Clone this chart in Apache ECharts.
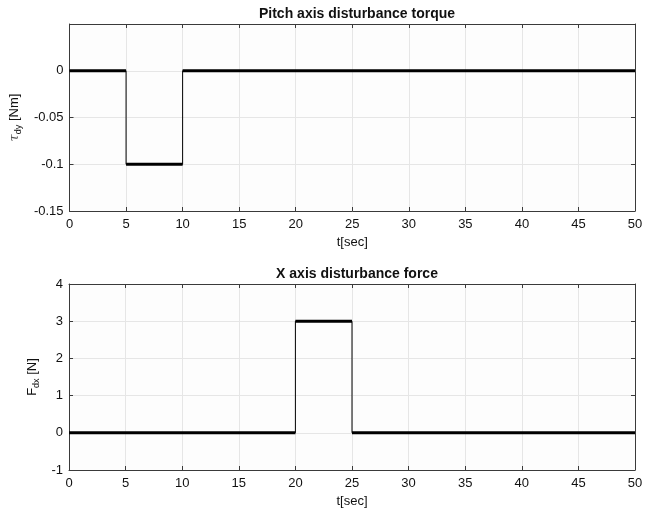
<!DOCTYPE html>
<html><head><meta charset="utf-8">
<script src="https://cdn.jsdelivr.net/npm/echarts@6/dist/echarts.min.js"></script>
<style>html,body{margin:0;padding:0;background:#fff}#c{width:650px;height:512px}</style>
</head><body><div id="c"></div>
<script>
// Top subplot: pitch axis disturbance torque (piecewise constant segments)
const tauSegStart = [0, 5, 10];
const tauSegEnd = [5, 10, 50];
const tauSegValue = [0, -0.1, 0];
// Bottom subplot: X axis disturbance force
const fSegStart = [0, 20, 25];
const fSegEnd = [20, 25, 50];
const fSegValue = [0, 3, 0];
const xTicks = [0, 5, 10, 15, 20, 25, 30, 35, 40, 45, 50];

function stepPoints(s, e, v) {
  const pts = [];
  for (let i = 0; i < s.length; i++) { pts.push([s[i], v[i]]); pts.push([e[i], v[i]]); }
  return pts;
}
function segPoints(s, e, v) {
  const pts = [];
  for (let i = 0; i < s.length; i++) {
    if (i > 0) pts.push(null);
    pts.push([s[i], v[i]]); pts.push([e[i], v[i]]);
  }
  return pts;
}

const FONT = 'Liberation Sans';
const axisCol = '#3a3a3a';
const gridCol = '#e6e6e6';

function xAx(gi, show) {
  return {
    type: 'value', gridIndex: gi, min: 0, max: 50, interval: 5,
    position: show ? 'bottom' : 'top',
    axisLine: { show: true, onZero: false, lineStyle: { color: axisCol, width: 1 } },
    axisTick: { show: true, inside: true, length: 4, lineStyle: { color: axisCol } },
    axisLabel: { show: show, color: '#111', fontFamily: FONT, fontSize: 13, margin: 7 },
    splitLine: { show: show, lineStyle: { color: gridCol, width: 1 } },
    name: show ? 't[sec]' : '', nameLocation: 'middle', nameGap: 25,
    nameTextStyle: { color: '#111', fontFamily: FONT, fontSize: 13 }
  };
}
function yAx(gi, min, max, interval, show, name, gap, hideTop) {
  return {
    type: 'value', gridIndex: gi, min: min, max: max, interval: interval,
    position: show ? 'left' : 'right',
    axisLine: { show: true, onZero: false, lineStyle: { color: axisCol, width: 1 } },
    axisTick: { show: true, inside: true, length: 4, lineStyle: { color: axisCol } },
    axisLabel: {
      show: show, color: '#111', fontFamily: FONT, fontSize: 13, margin: 6,
      formatter: function (v) {
        const r = Math.round(v * 1000) / 1000;
        if (hideTop && r > 0.04) return '';
        return String(r);
      }
    },
    splitLine: { show: show, lineStyle: { color: gridCol, width: 1 } },
    name: show ? name : '', nameLocation: 'middle', nameGap: gap, nameRotate: 90,
    nameTextStyle: {
      color: '#111', fontFamily: FONT, fontSize: 13,
      rich: {
        g: { fontFamily: 'DejaVu Serif', fontStyle: 'italic', fontSize: 13, color: '#555' },
        s: { fontSize: 9, fontFamily: FONT, color: '#111', padding: [8, 0, 0, 0] },
        n: { fontSize: 13, fontFamily: FONT, color: '#111' }
      }
    }
  };
}

const chart = echarts.init(document.getElementById('c'), null, { renderer: 'canvas' });
chart.setOption({
  backgroundColor: '#ffffff',
  animation: false,
  title: [
    { text: 'Pitch axis disturbance torque', left: 352, top: 2, textAlign: 'center',
      textStyle: { fontFamily: FONT, fontSize: 14, fontWeight: 'bold', color: '#111' } },
    { text: 'X axis disturbance force', left: 352, top: 262, textAlign: 'center',
      textStyle: { fontFamily: FONT, fontSize: 14, fontWeight: 'bold', color: '#111' } }
  ],
  grid: [
    { left: 69, top: 24, width: 566, height: 187, show: true, backgroundColor: '#fdfdfd', borderWidth: 0 },
    { left: 69, top: 284, width: 566, height: 186, show: true, backgroundColor: '#fdfdfd', borderWidth: 0 }
  ],
  xAxis: [xAx(0, true), xAx(0, false), xAx(1, true), xAx(1, false)],
  yAxis: [
    yAx(0, -0.15, 0.05, 0.05, true, '{g|τ}{s|dy}{n| [Nm]}', 42, true),
    yAx(0, -0.15, 0.05, 0.05, false, '', 0, true),
    yAx(1, -1, 4, 1, true, '{n|F}{s|dx}{n| [N]}', 25, false),
    yAx(1, -1, 4, 1, false, '', 0, false)
  ],
  series: [
    { type: 'line', xAxisIndex: 0, yAxisIndex: 0, data: stepPoints(tauSegStart, tauSegEnd, tauSegValue),
      showSymbol: false, lineStyle: { color: '#000', width: 1 }, silent: true },
    { type: 'line', xAxisIndex: 0, yAxisIndex: 0, data: segPoints(tauSegStart, tauSegEnd, tauSegValue),
      showSymbol: false, connectNulls: false, lineStyle: { color: '#000', width: 3 }, silent: true },
    { type: 'line', xAxisIndex: 2, yAxisIndex: 2, data: stepPoints(fSegStart, fSegEnd, fSegValue),
      showSymbol: false, lineStyle: { color: '#000', width: 1 }, silent: true },
    { type: 'line', xAxisIndex: 2, yAxisIndex: 2, data: segPoints(fSegStart, fSegEnd, fSegValue),
      showSymbol: false, connectNulls: false, lineStyle: { color: '#000', width: 3 }, silent: true }
  ]
});
</script></body></html>
